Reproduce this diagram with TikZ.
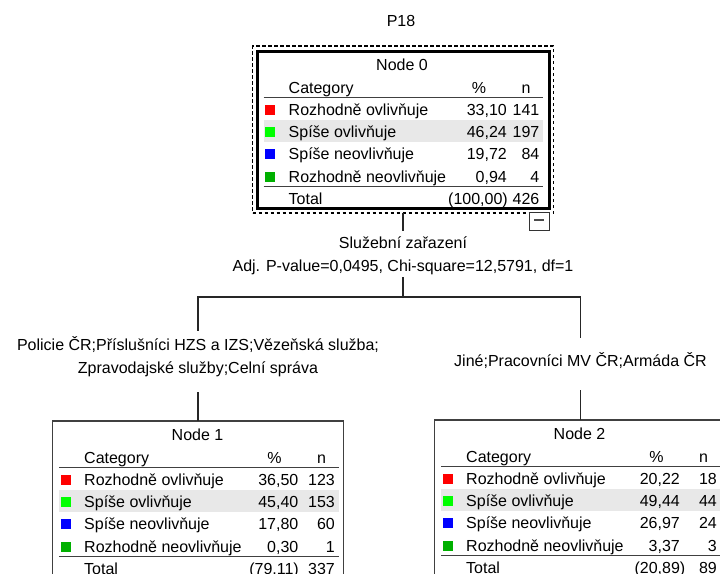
\documentclass[tikz,border=0pt]{standalone}
\usepackage{fontspec}
\setmainfont{Liberation Sans}
\usetikzlibrary{calc}
\definecolor{cRed}{RGB}{255,0,0}
\definecolor{cLime}{RGB}{0,255,0}
\definecolor{cBlue}{RGB}{0,0,255}
\definecolor{cGreen}{RGB}{0,176,0}
\definecolor{rowShade}{RGB}{232,232,232}
\definecolor{lineGray}{RGB}{64,64,64}

\tikzset{
  txt/.style={font=\fontsize{16}{19}\selectfont, inner sep=0pt, text=black},
  lbl/.style={txt, text height=12pt, text depth=4pt},
  tbox/.style={draw=lineGray, line width=1.2pt, minimum width=291pt, minimum height=157pt, inner sep=0pt, outer sep=0pt},
  rootbox/.style={draw=black, line width=3pt, minimum width=292pt, minimum height=157pt, inner sep=0pt, outer sep=0pt},
  outerdash/.style={draw=black, line width=1.2pt, dash pattern=on 3.5pt off 2.5pt, minimum width=301pt, minimum height=167pt, inner sep=0pt, outer sep=0pt},
  conn/.style={draw=black!85, line width=1.2pt},
  rulepen/.style={draw=lineGray, line width=1.6pt},
  minusbox/.style={draw=black!80, fill=white, line width=1pt, minimum width=20pt, minimum height=18pt, inner sep=0pt, outer sep=0pt},
}

% #1 prefix, #2 row id, #3 baseline, #4 colour, #5 label, #6 percent, #7 n
\newcommand\trow[7]{%
  \fill[#4] (8,#3-10.5) rectangle (18,#3-0.5);
  \node[txt, anchor=base west] (#1#2l) at (31.5,#3) {#5};
  \node[txt, anchor=base east] (#1#2p) at (\pctx,#3) {#6};
  \node[txt, anchor=base east] (#1#2n) at (282.5,#3) {#7};
}
% #1 prefix, #2 title
\newcommand\thead[2]{%
  \node[txt, anchor=base] (#1t) at (145,19.5) {#2};
  \node[txt, anchor=base west] (#1hc) at (31.5,42.5) {Category};
  \node[txt, anchor=base] (#1hp) at (222,42.5) {\%};
  \node[txt, anchor=base] (#1hn) at (269,42.5) {n};
  \fill[rowShade] (6.5,68.5) rectangle (286,90.5);
  \draw[rulepen] (6.5,46.5) -- (286,46.5);
  \draw[rulepen] (6.5,135.5) -- (286,135.5);
}
% #1 prefix, #2 total percent, #3 total n
\newcommand\ttotal[3]{%
  \node[txt, anchor=base west] (#1tl) at (31.5,153.5) {Total};
  \node[txt, anchor=base east] (#1tp) at (\totx,153.5) {#2};
  \node[txt, anchor=base east] (#1tn) at (282.5,153.5) {#3};
}

\begin{document}
\begin{tikzpicture}[x=1pt,y=-1pt]
\useasboundingbox (0,0) rectangle (720,573);
\clip (0,0) rectangle (720,573);
\fill[white] (0,0) rectangle (720,573);

\node[txt, anchor=base] (title) at (401,26) {P18};

% root node
\node[outerdash] (n0o) at (403,129.5) {};
\node[rootbox] (n0) at (403,129.5) {};
\node[minusbox] (col) at (539,221) {};
\draw[line width=2pt, black!70] ([xshift=-5pt,yshift=1pt]col.center) -- ([xshift=5pt,yshift=1pt]col.center);

\begin{scope}[shift={(n0.north west)}]
  \def\pctx{250}\def\totx{251}
  \thead{n0}{Node 0}
  \trow{n0}{r1}{64.5}{cRed}{Rozhodně ovlivňuje}{33,10}{141}
  \trow{n0}{r2}{86.7}{cLime}{Spíše ovlivňuje}{46,24}{197}
  \trow{n0}{r3}{108.9}{cBlue}{Spíše neovlivňuje}{19,72}{84}
  \trow{n0}{r4}{131.1}{cGreen}{Rozhodně neovlivňuje}{0,94}{4}
  \ttotal{n0}{(100,00)}{426}
\end{scope}

% split labels
\node[lbl, anchor=base] (sv) at (403,248) {Služební zařazení};
\node[lbl, anchor=base] (sp) at (403,271) {Adj. P-value=0,0495, Chi-square=12,5791, df=1};
\coordinate (j0) at (403,297);

\node[lbl, anchor=base] (la1) at (198,350) {Policie ČR;Příslušníci HZS a IZS;Vězeňská služba;};
\node[lbl, anchor=base] (la2) at (198,373) {Zpravodajské služby;Celní správa};
\node[lbl, anchor=base] (lb) at (580.5,366) {Jiné;Pracovníci MV ČR;Armáda ČR};

% child nodes
\node[tbox] (n1) at (198,499.5) {};
\node[tbox, minimum width=292pt] (n2) at (580.5,498.5) {};

\begin{scope}[shift={(n1.north west)}]
  \def\pctx{246}\def\totx{246.5}
  \thead{n1}{Node 1}
  \trow{n1}{r1}{64.5}{cRed}{Rozhodně ovlivňuje}{36,50}{123}
  \trow{n1}{r2}{86.7}{cLime}{Spíše ovlivňuje}{45,40}{153}
  \trow{n1}{r3}{108.9}{cBlue}{Spíše neovlivňuje}{17,80}{60}
  \trow{n1}{r4}{131.1}{cGreen}{Rozhodně neovlivňuje}{0,30}{1}
  \ttotal{n1}{(79,11)}{337}
\end{scope}

\begin{scope}[shift={(n2.north west)}]
  \def\pctx{245.5}\def\totx{251}
  \thead{n2}{Node 2}
  \trow{n2}{r1}{64.5}{cRed}{Rozhodně ovlivňuje}{20,22}{18}
  \trow{n2}{r2}{86.7}{cLime}{Spíše ovlivňuje}{49,44}{44}
  \trow{n2}{r3}{108.9}{cBlue}{Spíše neovlivňuje}{26,97}{24}
  \trow{n2}{r4}{131.1}{cGreen}{Rozhodně neovlivňuje}{3,37}{3}
  \ttotal{n2}{(20,89)}{89}
\end{scope}

% connectors
\draw[conn] (n0o.south) -- ([yshift=5pt]sv.north);
\draw[conn] ([yshift=-2pt]sp.south) -- (j0);
\draw[conn] ([yshift=7pt]la1.north) |- (j0) -| ([yshift=16pt]lb.north);
\draw[conn] ([yshift=-15pt]la2.south) -- (n1.north);
\draw[conn] ([yshift=-20pt]lb.south) -- (n2.north);
\end{tikzpicture}
\end{document}
